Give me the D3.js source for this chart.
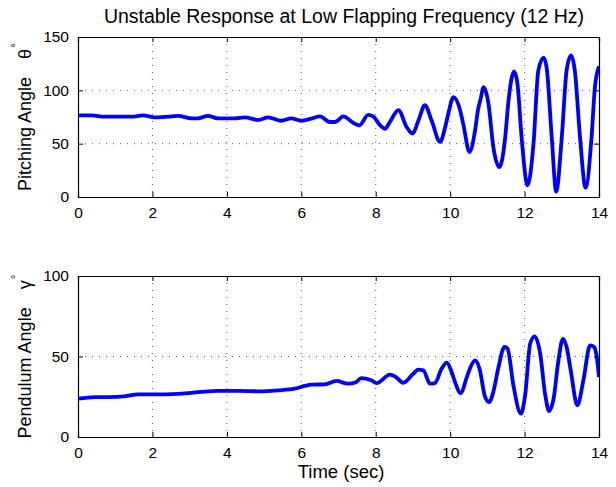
<!DOCTYPE html>
<html>
<head>
<meta charset="utf-8">
<script src="https://cdn.jsdelivr.net/npm/d3@7"></script>
<style>
  body { margin: 0; background: #ffffff; }
  text { font-family: "Liberation Sans", Arial, Helvetica, sans-serif; fill: #000; }
</style>
</head>
<body>
<script>
'use strict';

// time samples (sec) and pitching angle theta (deg)
const thetaTime = [0, 0.36, 0.72, 1.16, 1.43, 1.75, 2.06, 2.42, 2.69, 3.05, 3.22, 3.49, 3.76,
  4.21, 4.48, 4.84, 5.11, 5.46, 5.73, 6.0, 6.27, 6.5, 6.77, 6.91, 7.13, 7.4, 7.56, 7.8, 7.93,
  8.12, 8.25, 8.38, 8.61, 8.83, 8.99, 9.15, 9.32, 9.5, 9.73, 9.87, 9.95, 10.09, 10.27, 10.36,
  10.52, 10.67, 10.75, 10.82, 10.9, 11.03, 11.16, 11.32, 11.48, 11.56, 11.66, 11.72, 11.81,
  11.92, 12.08, 12.24, 12.37, 12.51, 12.59, 12.73, 12.85, 13.0, 13.13, 13.25, 13.35, 13.49,
  13.64, 13.8, 13.89, 14.0];
const thetaValues = [76.5, 76.5, 75.3, 75.3, 75.3, 76.5, 74.7, 75.3, 76, 73.8, 73.8, 76, 73.8,
  73.8, 74.7, 72.2, 74.7, 71.5, 73.8, 71.5, 73.5, 75.5, 70.3, 70.3, 75.6, 69.4, 67.2, 77, 75.6,
  67.2, 64, 70.3, 81.5, 65.6, 59.4, 71.9, 86, 71.9, 51.6, 66, 78, 93.7, 81.2, 67,
  42.2, 62.5, 82, 92, 103, 87.5, 47, 28, 56, 87.5, 112.5, 117.8, 106,
  56, 11, 50, 118.7, 130.6, 122, 56, 5, 56, 118.7, 132.8, 118.7, 56,
  8.7, 56, 103, 122.5];

// time samples (sec) and pendulum angle gamma (deg)
const gammaTime = [0, 0.45, 0.81, 1.25, 1.61, 2.24, 2.87, 3.31, 3.76, 4.3, 4.84, 5.37, 5.82,
  6.09, 6.27, 6.63, 6.94, 7.26, 7.48, 7.61, 7.88, 8.03, 8.38, 8.52, 8.74, 9.01, 9.14, 9.28,
  9.46, 9.59, 9.77, 9.91, 10.04, 10.13, 10.28, 10.45, 10.53, 10.67, 10.79, 10.94, 11.05,
  11.16, 11.3, 11.46, 11.54, 11.7, 11.9, 12.02, 12.15, 12.27, 12.42, 12.55, 12.66, 12.78,
  12.91, 13.03, 13.13, 13.24, 13.42, 13.58, 13.76, 13.87, 13.94, 14.0];
const gammaValues = [23.8, 24.8, 24.8, 25.3, 26.5, 26.5, 27.1, 28, 28.6, 28.6, 28.4, 29, 30,
  31.7, 32.5, 32.7, 34.8, 33.1, 34.2, 36.6, 35.2, 33.5, 38.7, 37.6, 33.7, 39.3, 41.8, 41.4,
  33.1, 33.5, 42.4, 46.2, 40.4, 34.2, 27.3, 37.3, 42.4, 47.6, 42.4, 24.8, 21.7,
  28, 43.5, 55.9, 55, 32, 14.5, 26.9, 58, 62.5, 51.8, 26.9, 16.1, 23.8,
  47.6, 61, 55.9, 41.4, 19.7, 35.2, 56.9, 55.9, 49.7, 37.3];

// tick labels
const timeTicks = [0, 2, 4, 6, 8, 10, 12, 14];
const thetaTicks = [0, 50, 100, 150];
const gammaTicks = [0, 50, 100];

const width = 616, height = 487;
const left = 78, right = 599;

const svg = d3.select('body')
  .append('svg')
  .attr('width', width)
  .attr('height', height);

// shared time scale
const xScale = d3.scaleLinear().domain([0, 14]).range([left, right]);

// draws one subplot: box, grid, ticks, line and y label
function drawPanel(id, top, bottom, yMax, yTicks, times, values, labelText, symbol) {
  const yScale = d3.scaleLinear().domain([0, yMax]).range([bottom, top]);
  const g = svg.append('g');

  // dotted grid
  g.selectAll('.vgrid').data(timeTicks.slice(1, -1)).enter()
    .append('line')
    .attr('x1', d => xScale(d)).attr('x2', d => xScale(d))
    .attr('y1', top).attr('y2', bottom)
    .attr('stroke', '#333').attr('stroke-width', 0.8)
    .attr('stroke-dasharray', '1,6');
  g.selectAll('.hgrid').data(yTicks.slice(1, -1)).enter()
    .append('line')
    .attr('x1', left).attr('x2', right)
    .attr('y1', d => yScale(d)).attr('y2', d => yScale(d))
    .attr('stroke', '#333').attr('stroke-width', 0.8)
    .attr('stroke-dasharray', '1,6');

  // axes with inward ticks on all sides
  const tickLen = 5;
  g.append('g').attr('transform', `translate(0,${bottom})`)
    .call(d3.axisBottom(xScale).tickValues(timeTicks).tickSize(-tickLen).tickPadding(10).tickFormat(d3.format('d')));
  g.append('g').attr('transform', `translate(0,${top})`)
    .call(d3.axisTop(xScale).tickValues(timeTicks).tickSize(-tickLen).tickFormat(''));
  g.append('g').attr('transform', `translate(${left},0)`)
    .call(d3.axisLeft(yScale).tickValues(yTicks).tickSize(-tickLen).tickPadding(9).tickFormat(d3.format('d')));
  g.append('g').attr('transform', `translate(${right},0)`)
    .call(d3.axisRight(yScale).tickValues(yTicks).tickSize(-tickLen).tickFormat(''));

  g.selectAll('.domain').attr('stroke', '#000').attr('stroke-width', 1.2);
  g.selectAll('.tick line').attr('stroke', '#000');
  g.selectAll('.tick text').style('font-size', '15.5px').attr('fill', '#000');

  // clip the signal to the axes box
  svg.append('clipPath').attr('id', id)
    .append('rect')
    .attr('x', left).attr('y', top)
    .attr('width', right - left).attr('height', bottom - top);

  const line = d3.line()
    .x(d => xScale(d[0]))
    .y(d => yScale(d[1]))
    .curve(d3.curveMonotoneX);

  g.append('path')
    .datum(d3.zip(times, values))
    .attr('clip-path', `url(#${id})`)
    .attr('fill', 'none')
    .attr('stroke', '#0000ff')
    .attr('stroke-width', 3.8)
    .attr('stroke-linejoin', 'round')
    .attr('d', line);

  // rotated y label with greek symbol and degree mark
  const cy = (top + bottom) / 2;
  const label = svg.append('text')
    .attr('transform', `translate(31,${cy})rotate(-90)`)
    .attr('text-anchor', 'middle')
    .style('font-size', '18px');
  label.append('tspan').text(labelText);
  label.append('tspan').attr('dx', 18).text(symbol);
  label.append('tspan').attr('dy', -11).attr('dx', 1).style('font-size', '12px').text('\u00b0');
}

drawPanel('clipTop', 37, 197, 150, thetaTicks, thetaTime, thetaValues, 'Pitching Angle', '\u03b8');
drawPanel('clipBottom', 276, 437, 100, gammaTicks, gammaTime, gammaValues, 'Pendulum Angle', '\u03b3');

// title and x label
svg.append('text')
  .attr('x', 344)
  .attr('y', 23)
  .attr('text-anchor', 'middle')
  .style('font-size', '19.5px')
  .text('Unstable Response at Low Flapping Frequency (12 Hz)');

svg.append('text')
  .attr('x', 341)
  .attr('y', 478)
  .attr('text-anchor', 'middle')
  .style('font-size', '18.5px')
  .text('Time (sec)');
</script>
</body>
</html>
